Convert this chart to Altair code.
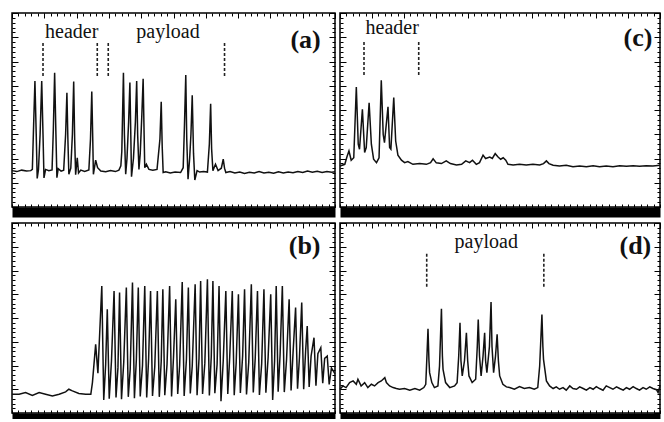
import altair as alt
import pandas as pd

# ---- traces (time in 1/10 division, amplitude in 1/10 division) ----
A_TRACE = [(0,15.0),(1.5,14.6),(3.0,15.2),(4.5,14.8),(5.8,15.0),(6.3,15.5),
    (6.7,34),(7.1,52.0),(7.5,30),(7.8,11.8),(8.2,15.5),
    (8.7,30),(9.2,52.0),(9.6,30),(9.9,12.0),(10.4,15.5),(11.4,15.0),(12.4,15.3),
    (12.8,32),(13.2,55.4),(13.6,30),(13.9,12.1),(14.3,15.8),(15.2,14.8),(16.0,15.2),
    (16.6,30),(17.0,47.1),(17.3,28),(17.6,13.5),(18.2,16.0),
    (18.7,30),(19.1,51.7),(19.4,28),(19.7,13.3),(20.2,20.3),(20.6,14.0),(21.3,15.2),(22.5,14.7),(23.8,15.3),
    (24.3,28),(24.7,47.6),(25.0,28),(25.2,13.5),(25.9,19.3),(26.5,16.2),(27.5,14.8),(29.0,14.5),(30.5,15.0),(32.0,14.6),(33.1,15.2),(33.7,17.0),(34.0,23.0),
    (34.5,55.4),(34.8,30),(35.2,13.5),(35.6,20.0),
    (36.1,35),(36.5,51.3),(36.8,28),(37.0,12.5),(37.6,20.0),
    (38.2,35),(38.6,52.0),(38.9,30),(39.3,15.5),(39.7,22.0),
    (40.2,38),(40.6,52.9),(40.9,30),(41.1,16.2),(41.6,17.6),(42.4,15.5),(43.6,15.2),(44.9,15.5),
    (45.8,28),(46.2,43.4),(46.5,25),(46.8,14.2),(47.6,14.5),(49.0,14.0),(50.5,14.4),(52.2,14.2),(53.0,16.2),
    (53.4,34),(53.8,54.4),(54.1,28),(54.5,11.5),(55.0,20.0),
    (55.4,30),(55.8,46.1),(56.2,22),(56.6,11.1),(57.3,15.0),(58.1,14.4),(59.3,14.6),(60.5,14.4),
    (61.1,26),(61.5,42.6),(61.8,24),(62.2,15.0),(63.0,17.6),(63.8,15.0),(64.8,16.0),(65.4,19.7),(65.8,16.0),(66.2,14.2),
    (67.5,14.6),(69.0,14.0),(70.5,14.4),(72.0,13.8),(73.5,14.3),(75.0,14.0),(76.5,14.6),(78.0,14.0),(79.5,14.3),
    (81.0,13.9),(82.5,14.5),(84.0,14.0),(85.5,14.4),(87.0,14.1),(88.5,14.6),(90.0,14.2),(91.5,14.8),(93.0,14.3),
    (94.5,14.7),(96.0,14.2),(97.5,14.6),(99.0,14.3),(100,14.5)]

B_TRACE = [(0,7.9),(2.2,7.9),(4.2,8.6),(6.3,7.4),(8.4,8.6),(10.4,7.9),(12.5,7.2),(14.6,7.9),(16.6,8.9),
    (17.6,10.0),(18.7,9.3),(20.7,8.2),(22.8,7.9),(24.4,7.9),(24.9,12.8),(25.9,28.9),(26.6,16.8),
    (27.8,53.5),(28.4,5.5),(29.0,20.5),
    (29.5,43.7),(30.1,6.0),(30.8,22.0),
    (31.6,51.4),(32.2,6.5),(32.8,19.0),
    (33.3,50.7),(33.9,5.8),(34.6,21.5),
    (35.4,52.8),(36.0,6.8),(36.6,18.5),
    (37.3,54.9),(37.9,6.2),(38.5,22.5),
    (39.1,52.8),(39.7,7.0),(40.4,20.0),
    (41.1,53.5),(41.7,6.5),(42.3,23.0),
    (42.9,51.4),(43.5,7.2),(44.2,19.5),
    (45.0,51.4),(45.6,6.8),(46.2,21.8),
    (46.7,52.1),(47.3,7.5),(48.0,20.5),
    (48.8,53.5),(49.4,7.0),(50.0,23.5),
    (50.7,47.9),(51.3,8.0),(51.9,20.0),
    (52.7,55.2),(53.3,7.2),(54.0,22.5),
    (54.6,52.8),(55.2,8.2),(55.8,19.8),
    (56.7,54.2),(57.3,7.5),(57.9,23.0),
    (58.4,55.6),(59.0,8.0),(59.7,21.0),
    (60.5,56.3),(61.1,7.4),(61.7,24.0),
    (62.2,55.6),(62.8,8.3),(63.5,20.5),
    (64.1,53.5),(64.7,5.0),(65.4,22.0),
    (66.2,51.4),(66.8,8.0),(67.4,23.5),
    (68.2,51.4),(68.8,7.5),(69.4,21.0),
    (70.1,50.0),(70.7,8.4),(71.4,24.0),
    (72.0,52.1),(72.6,7.8),(73.3,21.5),
    (74.1,54.2),(74.7,8.6),(75.3,23.0),
    (76.0,51.4),(76.6,7.6),(77.3,20.8),
    (78.0,52.1),(78.6,8.5),(79.3,23.5),
    (80.1,50.0),(80.7,5.5),(81.3,22.0),
    (81.8,53.5),(82.4,9.0),(83.0,24.5),
    (83.7,53.5),(84.3,8.8),(85.0,22.5),
    (85.8,47.9),(86.4,9.5),(87.0,25.0),
    (87.8,44.4),(88.4,10.2),(89.0,23.5),
    (89.7,46.5),(90.3,10.0),(90.9,26.0),
    (91.4,36.6),(92.0,11.0),(92.6,24.0),
    (93.5,31.7),(94.1,11.5),(94.7,25.0),
    (95.6,27.5),(96.2,12.5),(96.8,23.0),
    (97.6,24.0),(98.2,12.0),(98.9,19.0),(100,16.5)]

C_TRACE = [(0,16.9),(1.5,17.6),(2.2,20.8),(2.8,23.1),(3.5,19.3),(4.3,20.3),(5.1,49.5),(5.7,25.9),(6.1,23.8),
    (7.0,40.3),(7.7,22.5),(8.2,24.5),(9.1,43.0),(9.8,25.9),(10.5,19.7),(11.4,18.3),(12.2,20.3),(12.9,52.3),
    (13.5,29.9),(13.9,26.5),(15.0,41.3),(15.5,24.5),(15.9,23.8),(16.8,45.1),(17.4,27.2),(18.1,21.4),(19.2,19.3),
    (20.2,18.3),(21.2,18.7),(22.8,17.6),(24.9,17.9),(27.0,17.6),(28.3,18.3),(29.1,19.9),(30.1,18.2),(31.7,17.9),
    (33.2,19.0),(34.5,17.9),(36.4,17.3),(38.0,17.6),(39.3,19.0),(40.5,18.3),(41.4,19.3),(42.6,17.6),(43.6,18.3),
    (44.7,21.4),(45.5,20.0),(46.8,20.6),(47.6,20.0),(48.5,22.0),(49.4,20.6),(50.2,19.7),(51.0,20.3),(51.8,19.3),
    (52.5,17.6),(54.1,17.3),(56.1,17.6),(58.2,17.3),(60.3,17.6),(62.4,17.3),(63.6,17.9),(64.5,19.0),(65.3,17.9),
    (66.6,17.2),(68.6,16.9),(70.7,17.2),(72.8,16.6),(74.9,16.9),(77.0,16.6),(79.1,17.0),(81.1,16.6),(83.2,16.9),
    (85.3,16.6),(87.4,17.0),(89.5,16.8),(91.6,17.0),(93.6,16.8),(95.7,17.0),(97.8,16.9),(100,17.2)]

D_TRACE = [(0,10.0),(0.9,11.4),(1.9,10.7),(3.0,12.8),(4.1,13.5),(5.1,12.1),(5.6,14.2),(6.6,11.4),(7.7,12.8),
    (8.7,10.7),(9.8,12.1),(10.8,11.4),(11.9,12.8),(12.9,13.5),(14.0,14.9),(14.5,12.8),(15.5,11.4),(16.6,10.7),
    (17.6,10.3),(18.6,10.0),(20.2,10.3),(21.8,9.6),(23.4,10.3),(24.9,9.6),(26.2,10.7),(26.8,12.1),
    (27.2,25),(27.5,35.5),(27.8,22),(28.0,17.0),(28.7,12.8),(29.5,10.7),(30.6,11.4),
    (31.1,19.8),(31.7,43.9),(32.0,24),(32.2,18.4),(33.0,12.8),(34.3,10.7),(35.8,11.4),(36.6,12.8),
    (37.1,24),(37.5,38.0),(37.8,22),(38.2,15.6),
    (38.9,22),(39.5,33.8),(39.9,22),(40.3,15.6),(41.3,12.8),(42.4,14.2),
    (42.9,28),(43.2,39.4),(43.6,24),(44.1,15.6),
    (44.7,24),(45.2,33.8),(45.5,22),(45.9,17.0),
    (46.7,28),(47.2,46.7),(47.5,28),(48.0,17.0),
    (48.6,24),(49.1,33.1),(49.5,22),(49.9,15.6),(50.9,12.1),(52.0,11.0),(53.0,10.7),(54.5,10.0),(56.1,11.1),
    (57.6,10.3),(59.2,10.7),(60.7,10.0),(61.8,10.7),
    (62.4,19.8),(63.1,41.5),(63.4,28),(63.6,22.6),(64.5,13.5),(65.5,11.4),(66.6,10.3),(67.6,11.0),(68.6,10.0),
    (69.7,10.7),(70.7,9.6),(71.8,11.4),(72.8,10.3),(73.9,10.0),(74.9,11.0),(76.0,10.3),(77.0,9.6),(78.1,10.7),
    (79.1,10.0),(80.1,11.1),(81.1,10.3),(82.2,9.6),(83.2,11.4),(84.3,10.7),(85.3,10.0),(86.4,11.0),(87.4,10.3),
    (88.5,9.6),(89.5,10.7),(90.5,10.0),(91.6,11.1),(92.6,10.3),(93.6,9.6),(94.7,10.7),(95.7,10.0),(96.8,11.0),
    (97.8,10.3),(98.9,9.8),(99.4,8.6),(100,11.4)]

# ---- dashed markers: x positions, bottom and top ----
A_MARKS = [9.6, 26.4, 29.8, 65.8]
A_MARK_SPAN = (54.0, 67.8)
B_MARKS = []
B_MARK_SPAN = (0, 0)
C_MARKS = [7.5, 24.6]
C_MARK_SPAN = (54.4, 68.7)
D_MARKS = [27.1, 63.7]
D_MARK_SPAN = (53.2, 67.5)

# ---- annotations ----
A_LABELS = [("header", 18.5, 69.8), ("payload", 48.3, 69.8)]
B_LABELS = []
C_LABELS = [("header", 16.3, 71.2)]
D_LABELS = [("payload", 45.7, 69.6)]
TAGS = {"a": ("(a)", 90.9, 65.7), "b": ("(b)", 90.6, 66.8), "c": ("(c)", 93.1, 66.4), "d": ("(d)", 92.3, 66.8)}

X_MINOR = list(range(0, 101, 2))
X_MAJOR = list(range(0, 101, 10))
Y_MINOR = list(range(0, 81, 2))
Y_MAJOR = list(range(0, 81, 10))

XS = alt.Scale(domain=[0, 100], nice=False, zero=False)
YS = alt.Scale(domain=[0, 80], nice=False, zero=False)
SERIF = "Liberation Serif"


def tick_axis(orient, values, size):
    return alt.Axis(orient=orient, values=values, tickSize=size, offset=-size, domain=False,
                    labels=False, grid=False, title=None, tickColor="black", tickWidth=1)


BAR_AXIS = alt.Axis(orient="bottom", domain=True, domainColor="black", domainWidth=10, offset=5,
                    ticks=False, labels=False, grid=False, title=None)


def panel(trace, marks, span, labels, tag, w, h):
    tdf = pd.DataFrame(trace, columns=["t", "v"])
    tdf["i"] = range(len(tdf))
    mdf = pd.DataFrame({"m": marks, "lo": [span[0]] * len(marks), "hi": [span[1]] * len(marks)},
                       columns=["m", "lo", "hi"])
    ldf = pd.DataFrame(labels, columns=["lab", "lx", "ly"])
    gdf = pd.DataFrame([tag], columns=["tag", "gx", "gy"])

    line = alt.Chart(tdf).mark_line(color="#111111", strokeWidth=1.5, strokeJoin="miter").encode(
        x=alt.X("t:Q", scale=XS, axis=BAR_AXIS),
        y=alt.Y("v:Q", scale=YS, axis=tick_axis("left", Y_MINOR, 3)),
        order=alt.Order("i:Q"))
    rules = alt.Chart(mdf).mark_rule(color="#222222", strokeWidth=1.6, strokeDash=[3, 2]).encode(
        x=alt.X("m:Q", scale=XS, axis=tick_axis("top", X_MAJOR, 5)),
        y=alt.Y("lo:Q", scale=YS, axis=tick_axis("left", Y_MAJOR, 6)),
        y2="hi:Q")
    text = alt.Chart(ldf).mark_text(font=SERIF, fontSize=20, align="center", baseline="alphabetic",
                                    color="#111111").encode(
        x=alt.X("lx:Q", scale=XS, axis=tick_axis("bottom", X_MINOR, 3)),
        y=alt.Y("ly:Q", scale=YS, axis=tick_axis("right", Y_MAJOR, 6)),
        text="lab:N")
    tagm = alt.Chart(gdf).mark_text(font=SERIF, fontSize=26, fontWeight="bold", align="center",
                                    baseline="alphabetic", color="#111111").encode(
        x=alt.X("gx:Q", scale=XS, axis=tick_axis("top", X_MINOR, 3)),
        y=alt.Y("gy:Q", scale=YS, axis=tick_axis("right", Y_MINOR, 3)),
        text="tag:N")
    return alt.layer(line, rules, text, tagm).resolve_axis(x="independent", y="independent").properties(
        width=w, height=h)


pa = panel(A_TRACE, A_MARKS, A_MARK_SPAN, A_LABELS, TAGS["a"], 323, 194)
pc = panel(C_TRACE, C_MARKS, C_MARK_SPAN, C_LABELS, TAGS["c"], 320, 194)
pb = panel(B_TRACE, B_MARKS, B_MARK_SPAN, B_LABELS, TAGS["b"], 323, 190)
pd_ = panel(D_TRACE, D_MARKS, D_MARK_SPAN, D_LABELS, TAGS["d"], 320, 190)

chart = alt.concat(pa, pc, pb, pd_, columns=2, spacing={"row": 16, "column": 5}, bounds="flush").properties(
    padding={"left": 8, "top": 11, "right": 0, "bottom": 0}, background="white"
).configure_view(stroke="black", strokeWidth=1.5)

chart.save("out.html", embed_options={"renderer": "svg", "actions": False})
